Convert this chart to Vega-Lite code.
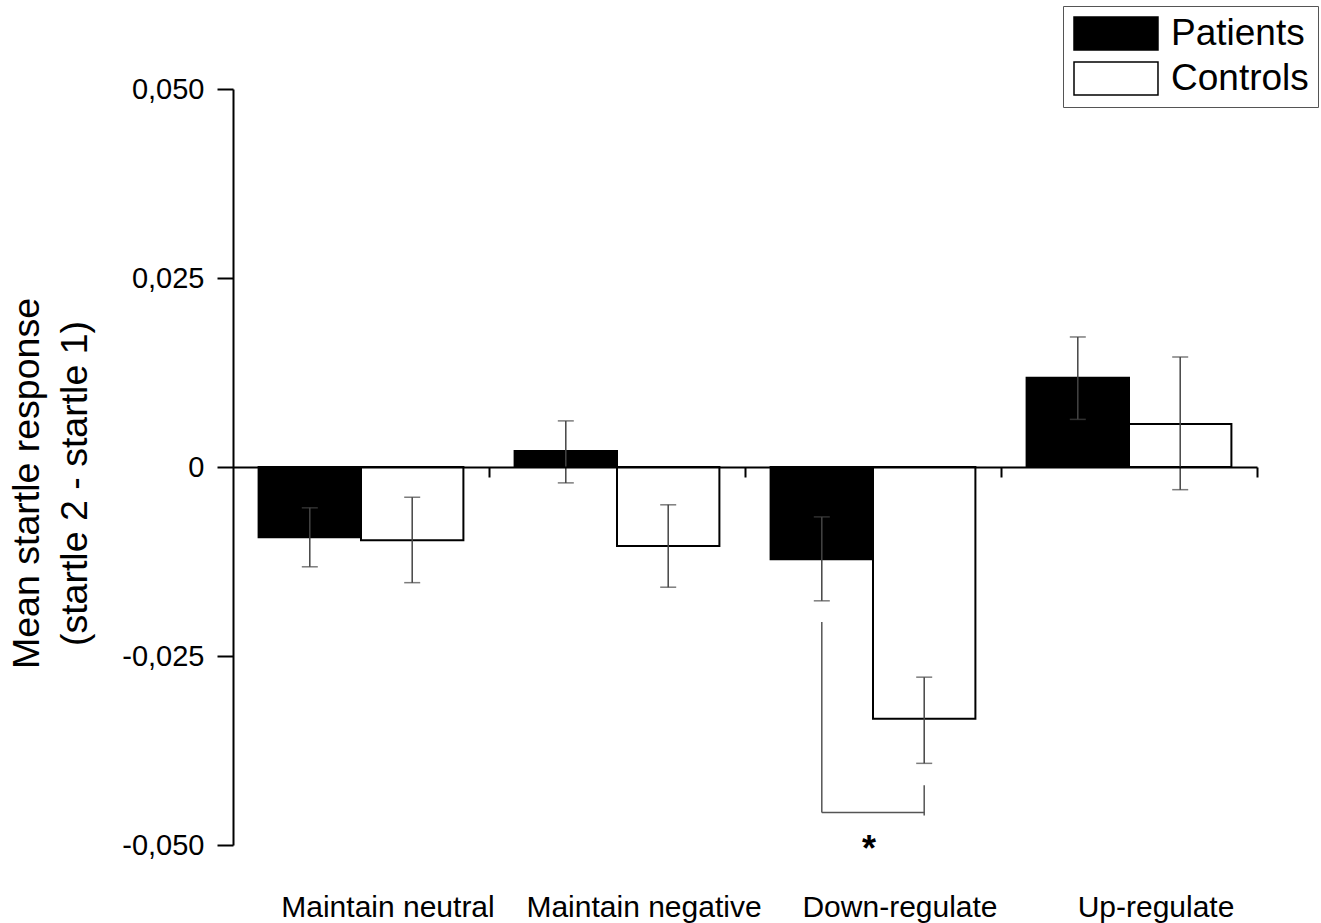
{
  "$schema": "https://vega.github.io/schema/vega-lite/v6.json",
  "width": 1024,
  "height": 756,
  "autosize": {"type": "none"},
  "padding": {"left": 233, "top": 89, "right": 64, "bottom": 78},
  "background": "white",
  "config": {
    "view": {"stroke": null},
    "font": "Liberation Sans"
  },
  "datasets": {
    "bars": [
      {"cond": "Maintain neutral", "grp": "Patients", "mean": -0.0093, "lo": -0.0132, "hi": -0.0054},
      {"cond": "Maintain neutral", "grp": "Controls", "mean": -0.0097, "lo": -0.0153, "hi": -0.0040},
      {"cond": "Maintain negative", "grp": "Patients", "mean": 0.0021, "lo": -0.0021, "hi": 0.0061},
      {"cond": "Maintain negative", "grp": "Controls", "mean": -0.01045, "lo": -0.0159, "hi": -0.0050},
      {"cond": "Down-regulate", "grp": "Patients", "mean": -0.0122, "lo": -0.0177, "hi": -0.0066},
      {"cond": "Down-regulate", "grp": "Controls", "mean": -0.0333, "lo": -0.0392, "hi": -0.0278},
      {"cond": "Up-regulate", "grp": "Patients", "mean": 0.0118, "lo": 0.0063, "hi": 0.0172},
      {"cond": "Up-regulate", "grp": "Controls", "mean": 0.0057, "lo": -0.0030, "hi": 0.01455}
    ],
    "bracketV": [
      {"cond": "Down-regulate", "grp": "Patients", "y1": -0.0205, "y2": -0.0457},
      {"cond": "Down-regulate", "grp": "Controls", "y1": -0.0421, "y2": -0.0461}
    ],
    "bracketH": [
      {"cond": "Down-regulate", "grp": "Patients", "y": -0.0457},
      {"cond": "Down-regulate", "grp": "Controls", "y": -0.0457}
    ],
    "star": [
      {"cond": "Down-regulate", "label": "*", "y": -0.0521}
    ]
  },
  "layer": [
    {
      "data": {"name": "bars"},
      "mark": {"type": "bar", "stroke": "black", "strokeWidth": 2},
      "encoding": {
        "x": {
          "field": "cond", "type": "nominal", "sort": null,
          "scale": {"paddingInner": 0, "paddingOuter": 0},
          "axis": {
            "orient": "bottom", "offset": -378, "title": null, "domainWidth": 2, "domainColor": "black",
            "bandPosition": 1, "tickSize": 10, "tickWidth": 2, "tickColor": "black",
            "labelFontSize": 30, "labelPadding": 415,
            "labelFont": "Liberation Sans", "labelColor": "black", "labelAngle": 0, "labelLimit": 0,
            "labelOffset": 27, "zindex": 1
          }
        },
        "xOffset": {"field": "grp", "type": "nominal", "sort": ["Patients", "Controls"], "scale": {"paddingInner": 0, "paddingOuter": 0.25}},
        "y": {
          "field": "mean", "type": "quantitative",
          "scale": {"domain": [-0.05, 0.05], "nice": false},
          "axis": {
            "values": [-0.05, -0.025, 0, 0.025, 0.05],
            "labelExpr": "datum.value == 0 ? '0' : (datum.value < 0 ? '-' : '') + replace(format(abs(datum.value), '.3f'), '.', ',')",
            "domainWidth": 2, "domainColor": "black", "tickSize": 16, "tickWidth": 2, "tickColor": "black",
            "labelFontSize": 29, "labelPadding": 13, "labelColor": "black", "labelFont": "Liberation Sans", "grid": false,
            "title": ["Mean startle response", "(startle 2 - startle 1)"],
            "titleFontSize": 37.5, "titleFontWeight": "normal", "titleColor": "black", "titleFont": "Liberation Sans",
            "titleAngle": -90, "titleX": -206, "titleY": 394, "titleAlign": "center", "titleBaseline": "middle", "titleLineHeight": 48,
            "zindex": 1
          }
        },
        "fill": {
          "field": "grp", "type": "nominal", "sort": ["Patients", "Controls"],
          "scale": {"domain": ["Patients", "Controls"], "range": ["black", "white"]},
          "legend": {
            "orient": "none", "legendX": 830, "legendY": -83, "title": null,
            "symbolType": "M-1,-1H4.09V1H-1Z", "symbolSize": 1089,
            "symbolStrokeColor": "black", "symbolStrokeWidth": 1.5,
            "labelFontSize": 37, "labelOffset": 62, "labelFont": "Liberation Sans", "labelColor": "black",
            "rowPadding": 6, "padding": 9, "strokeColor": "#555", "fillColor": "white", "direction": "vertical"
          }
        }
      }
    },
    {
      "data": {"name": "bars"},
      "mark": {"type": "rule", "stroke": "#444", "strokeWidth": 1.5},
      "encoding": {
        "x": {"field": "cond", "type": "nominal", "sort": null, "axis": {"title": null}},
        "xOffset": {"field": "grp", "type": "nominal", "sort": ["Patients", "Controls"]},
        "y": {"field": "lo", "type": "quantitative"},
        "y2": {"field": "hi"}
      }
    },
    {
      "data": {"name": "bars"},
      "mark": {"type": "tick", "color": "#444", "size": 16, "thickness": 1.5, "orient": "horizontal"},
      "encoding": {
        "x": {"field": "cond", "type": "nominal", "sort": null, "axis": {"title": null}},
        "xOffset": {"field": "grp", "type": "nominal", "sort": ["Patients", "Controls"]},
        "y": {"field": "lo", "type": "quantitative"}
      }
    },
    {
      "data": {"name": "bars"},
      "mark": {"type": "tick", "color": "#444", "size": 16, "thickness": 1.5, "orient": "horizontal"},
      "encoding": {
        "x": {"field": "cond", "type": "nominal", "sort": null, "axis": {"title": null}},
        "xOffset": {"field": "grp", "type": "nominal", "sort": ["Patients", "Controls"]},
        "y": {"field": "hi", "type": "quantitative"}
      }
    },
    {
      "data": {"name": "bracketV"},
      "mark": {"type": "rule", "stroke": "#555", "strokeWidth": 1.5},
      "encoding": {
        "x": {"field": "cond", "type": "nominal", "sort": null, "axis": {"title": null}},
        "xOffset": {"field": "grp", "type": "nominal", "sort": ["Patients", "Controls"]},
        "y": {"field": "y1", "type": "quantitative"},
        "y2": {"field": "y2"}
      }
    },
    {
      "data": {"name": "bracketH"},
      "mark": {"type": "line", "stroke": "#555", "strokeWidth": 1.5},
      "encoding": {
        "x": {"field": "cond", "type": "nominal", "sort": null, "axis": {"title": null}},
        "xOffset": {"field": "grp", "type": "nominal", "sort": ["Patients", "Controls"]},
        "y": {"field": "y", "type": "quantitative"}
      }
    },
    {
      "data": {"name": "star"},
      "mark": {"type": "text", "fontSize": 36, "fontWeight": "bold", "baseline": "alphabetic", "align": "center", "color": "black", "font": "Liberation Sans", "dx": -4},
      "encoding": {
        "x": {"field": "cond", "type": "nominal", "sort": null, "axis": {"title": null}},
        "y": {"field": "y", "type": "quantitative"},
        "text": {"field": "label"}
      }
    }
  ]
}
